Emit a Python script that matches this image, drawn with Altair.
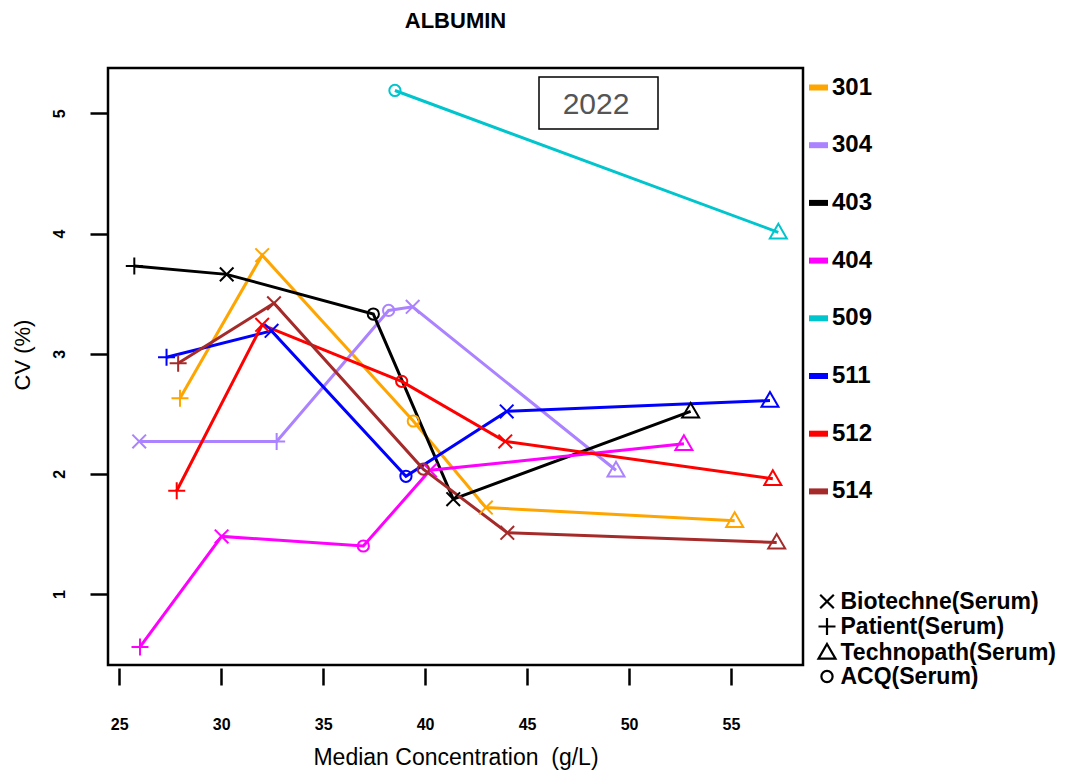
import altair as alt
import pandas as pd

FONT = "Liberation Sans"

# ---- data ----
series_ids = ["301", "304", "403", "404", "509", "511", "512", "514"]
series_colors = ["#FFA500", "#AB82FF", "#000000", "#FF00FF", "#00C5CD", "#0000FF", "#FF0000", "#A52A2A"]

BT, PT, TP, AQ = "Biotechne(Serum)", "Patient(Serum)", "Technopath(Serum)", "ACQ(Serum)"
materials = [BT, PT, TP, AQ]

conc_301 = [27.98, 32.01, 39.42, 42.98, 55.18]
cv_301 = [2.63, 3.82, 2.44, 1.72, 1.61]
mat_301 = [PT, BT, AQ, BT, TP]

conc_304 = [25.98, 32.72, 38.21, 39.39, 49.36]
cv_304 = [2.27, 2.27, 3.36, 3.39, 2.03]
mat_304 = [BT, PT, AQ, BT, TP]

conc_403 = [25.74, 30.27, 37.46, 41.38, 53.02]
cv_403 = [3.73, 3.66, 3.33, 1.79, 2.52]
mat_403 = [PT, BT, AQ, BT, TP]

conc_404 = [26.02, 30.02, 36.97, 40.24, 52.69]
cv_404 = [0.56, 1.48, 1.40, 2.03, 2.25]
mat_404 = [PT, BT, AQ, BT, TP]

conc_509 = [38.52, 57.32]
cv_509 = [5.19, 4.01]
mat_509 = [AQ, TP]

conc_511 = [27.32, 32.47, 39.06, 44.00, 56.91]
cv_511 = [2.97, 3.19, 1.98, 2.52, 2.61]
mat_511 = [PT, BT, AQ, BT, TP]

conc_512 = [27.82, 32.01, 38.85, 43.93, 57.05]
cv_512 = [1.86, 3.24, 2.77, 2.27, 1.96]
mat_512 = [PT, BT, AQ, BT, TP]

conc_514 = [27.89, 32.59, 39.91, 44.03, 57.24]
cv_514 = [2.92, 3.42, 2.04, 1.51, 1.43]
mat_514 = [PT, BT, AQ, BT, TP]

x_ticks = [25, 30, 35, 40, 45, 50, 55]
y_ticks = [1, 2, 3, 4, 5]
year_label = ["2022"]

all_conc = [conc_301, conc_304, conc_403, conc_404, conc_509, conc_511, conc_512, conc_514]
all_cv = [cv_301, cv_304, cv_403, cv_404, cv_509, cv_511, cv_512, cv_514]
all_mat = [mat_301, mat_304, mat_403, mat_404, mat_509, mat_511, mat_512, mat_514]

rows = []
for sid, xs, ys, ms in zip(series_ids, all_conc, all_cv, all_mat):
    for xv, yv, mv in zip(xs, ys, ms):
        rows.append({"Lab": sid, "Conc": xv, "CV": yv, "Material": mv})
df = pd.DataFrame(rows)

# marker paths (open symbols like R's pch 4, 3, 2, 1)
shape_paths = [
    "M-0.8,-0.8L0.8,0.8M-0.8,0.8L0.8,-0.8",
    "M-1,0L1,0M0,-1L0,1",
    "M0,-1L1,0.73L-1,0.73Z",
    "M-0.66,0A0.66,0.66 0 1,0 0.66,0A0.66,0.66 0 1,0 -0.66,0Z",
]

W, H = 695, 597
PAD_L, PAD_T = 108, 68

x_enc = alt.X(
    "Conc:Q",
    scale=alt.Scale(domain=[24.45, 58.53], nice=False, zero=False),
    axis=alt.Axis(
        values=x_ticks, format="d", domain=False, grid=False, offset=3,
        tickSize=17, tickWidth=2.5, tickColor="black",
        labelFont=FONT, labelFontSize=16, labelFontWeight="bold", labelColor="black",
        labelPadding=31,
        title="Median Concentration \u00a0(g/L)", titleFont=FONT, titleFontSize=23,
        titleFontWeight="normal", titleColor="black",
        titleX=W / 2, titleY=89, titleAlign="center", titleBaseline="middle",
    ),
)
y_enc = alt.Y(
    "CV:Q",
    scale=alt.Scale(domain=[0.41, 5.377], nice=False, zero=False),
    axis=alt.Axis(
        values=y_ticks, format="d", domain=False, grid=False,
        tickSize=18, tickWidth=2.5, tickColor="black",
        labelFont=FONT, labelFontSize=16, labelFontWeight="bold", labelColor="black",
        labelAngle=270, labelAlign="center", labelBaseline="bottom", labelPadding=23,
        title="CV (%)", titleFont=FONT, titleFontSize=22, titleFontWeight="normal",
        titleColor="black", titleAngle=270, titleX=-86, titleY=H / 2 - 12,
        titleAlign="center", titleBaseline="middle",
    ),
)

color_scale = alt.Scale(domain=series_ids, range=series_colors)

lines = alt.Chart(df).mark_line(strokeWidth=3).encode(
    x=x_enc,
    y=y_enc,
    color=alt.Color(
        "Lab:N", scale=color_scale,
        legend=alt.Legend(
            title=None, orient="none", legendX=698, legendY=7, padding=0,
            symbolType="stroke", symbolSize=361, symbolStrokeWidth=6,
            labelFont=FONT, labelFontSize=24, labelFontWeight="bold",
            labelColor="black", labelOffset=1, labelLimit=0, rowPadding=32.7,
        ),
    ),
)

points = alt.Chart(df).mark_point(filled=False, size=289, strokeWidth=2, opacity=1).encode(
    x=alt.X("Conc:Q"),
    y=alt.Y("CV:Q"),
    color=alt.Color("Lab:N", scale=color_scale, legend=None),
    shape=alt.Shape(
        "Material:N",
        scale=alt.Scale(domain=materials, range=shape_paths),
        legend=alt.Legend(
            title=None, orient="none", legendX=707.5, legendY=522, padding=0,
            symbolStrokeColor="black", symbolFillColor="transparent", symbolStrokeWidth=2.2,
            symbolSize=289, labelFont=FONT, labelFontSize=23, labelFontWeight="bold",
            labelColor="black", labelOffset=2, labelLimit=0, rowPadding=-1,
        ),
    ),
)

year_df = pd.DataFrame({"label": year_label})
box = alt.Chart(year_df).mark_rect(fill="white", stroke="black", strokeWidth=1.5).encode(
    x=alt.value(431), x2=alt.value(550), y=alt.value(9), y2=alt.value(61)
)
year_text = alt.Chart(year_df).mark_text(
    font=FONT, fontSize=30, color="#555555", align="center", baseline="middle"
).encode(x=alt.value(488), y=alt.value(37), text="label:N")

chart = alt.layer(lines, points, box, year_text).resolve_legend(
    color="independent", shape="independent"
).properties(
    width=W, height=H,
    background="white",
    autosize=alt.AutoSizeParams(type="none"),
    padding={"left": PAD_L, "top": PAD_T, "right": 1067 - PAD_L - W, "bottom": 770 - PAD_T - H},
    title=alt.TitleParams(
        "ALBUMIN", font=FONT, fontSize=22, fontWeight="bold", color="black",
        anchor="middle", baseline="middle", offset=25,
    ),
).configure_view(stroke="black", strokeWidth=2.5)

chart.save("out.html", embed_options={"renderer": "svg", "actions": False})
